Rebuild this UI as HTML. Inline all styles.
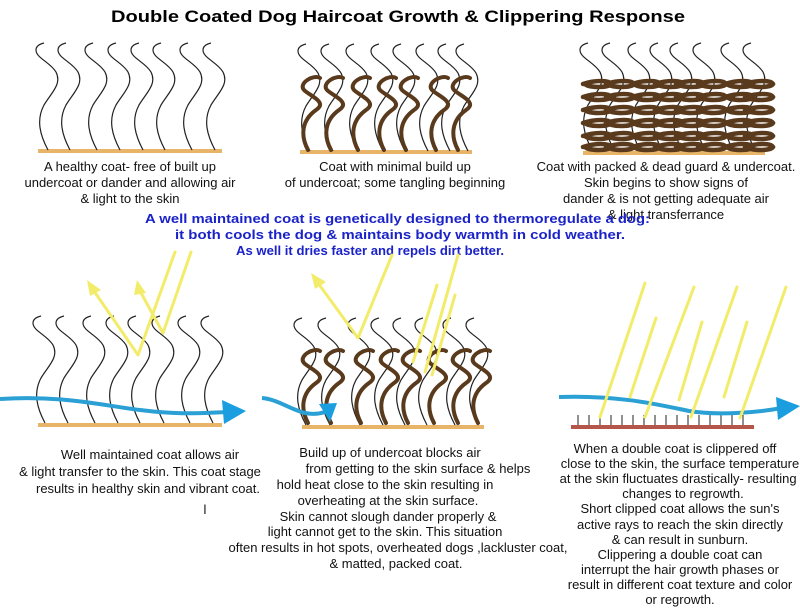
<!DOCTYPE html>
<html><head><meta charset="utf-8"><style>
html,body{margin:0;padding:0;background:#fff;}
svg{display:block;}
.cap{font-family:"Liberation Sans",sans-serif;font-size:13px;fill:#111;text-anchor:middle;}
.blue{font-family:"Liberation Sans",sans-serif;font-size:13px;font-weight:bold;fill:#1a22c8;}
</style></head><body>
<svg width="800" height="613" viewBox="0 0 800 613" xmlns="http://www.w3.org/2000/svg">
<defs>
<path id="h" d="M0,0 C-8,-15 -12,-30 -4,-45 C4,-58 14,-66 8,-78 C2,-88 -12,-92 -12,-100 C-12,-104 -8,-106 -4,-107" fill="none" stroke="#222" stroke-width="1.2"/>
<path id="c" d="M-4,0 C-12,-15 -10,-30 4,-40 C16,-48 -2,-54 -8,-60 C-14,-67 2,-76 8,-72" fill="none" stroke="#5a3a1c" stroke-width="4" stroke-linecap="round"/>
<path id="z" d="M-12,0 C0,-4 14,-4 16,0 C14,4 -6,4 -10,0" fill="none" stroke="#5a3a1c" stroke-width="4.5" stroke-linecap="round"/>
</defs>

<text x="398" y="22" font-family="Liberation Sans,sans-serif" font-size="17" font-weight="bold" text-anchor="middle" textLength="574" lengthAdjust="spacingAndGlyphs">Double Coated Dog Haircoat Growth &amp; Clippering Response</text>

<!-- top panel 1 -->
<rect x="38" y="149" width="184" height="4" fill="#e8b568"/>
<g><use href="#h" x="48" y="150"/><use href="#h" x="70" y="150"/><use href="#h" x="97" y="150"/><use href="#h" x="120" y="150"/><use href="#h" x="143" y="150"/><use href="#h" x="165" y="150"/><use href="#h" x="192" y="150"/><use href="#h" x="215" y="150"/></g>

<!-- top panel 2 -->
<rect x="300" y="150" width="172" height="4" fill="#e8b568"/>
<g><use href="#h" x="310" y="151"/><use href="#h" x="333" y="151"/><use href="#h" x="358" y="151"/><use href="#h" x="383" y="151"/><use href="#h" x="405" y="151"/><use href="#h" x="428" y="151"/><use href="#h" x="450" y="151"/><use href="#h" x="468" y="151"/></g>
<g><use href="#c" x="312" y="150"/><use href="#c" x="335" y="150"/><use href="#c" x="362" y="150"/><use href="#c" x="388" y="150"/><use href="#c" x="410" y="150"/><use href="#c" x="440" y="150"/><use href="#c" x="462" y="150"/></g>

<!-- top panel 3 -->
<rect x="583" y="151" width="182" height="4" fill="#e8b568"/>
<g><use href="#h" x="592" y="150"/><use href="#h" x="614" y="150"/><use href="#h" x="640" y="150"/><use href="#h" x="662" y="150"/><use href="#h" x="682" y="150"/><use href="#h" x="705" y="150"/><use href="#h" x="733" y="150"/><use href="#h" x="755" y="150"/></g>
<g>
<use href="#z" x="595" y="84"/><use href="#z" x="618" y="84"/><use href="#z" x="644" y="84"/><use href="#z" x="667" y="84"/><use href="#z" x="688" y="84"/><use href="#z" x="710" y="84"/><use href="#z" x="737" y="84"/><use href="#z" x="757" y="84"/>
<use href="#z" x="595" y="97"/><use href="#z" x="618" y="97"/><use href="#z" x="644" y="97"/><use href="#z" x="667" y="97"/><use href="#z" x="688" y="97"/><use href="#z" x="710" y="97"/><use href="#z" x="737" y="97"/><use href="#z" x="757" y="97"/>
<use href="#z" x="595" y="110"/><use href="#z" x="618" y="110"/><use href="#z" x="644" y="110"/><use href="#z" x="667" y="110"/><use href="#z" x="688" y="110"/><use href="#z" x="710" y="110"/><use href="#z" x="737" y="110"/><use href="#z" x="757" y="110"/>
<use href="#z" x="595" y="123"/><use href="#z" x="618" y="123"/><use href="#z" x="644" y="123"/><use href="#z" x="667" y="123"/><use href="#z" x="688" y="123"/><use href="#z" x="710" y="123"/><use href="#z" x="737" y="123"/><use href="#z" x="757" y="123"/>
<use href="#z" x="595" y="136"/><use href="#z" x="618" y="136"/><use href="#z" x="644" y="136"/><use href="#z" x="667" y="136"/><use href="#z" x="688" y="136"/><use href="#z" x="710" y="136"/><use href="#z" x="737" y="136"/><use href="#z" x="757" y="136"/>
<use href="#z" x="595" y="147"/><use href="#z" x="618" y="147"/><use href="#z" x="644" y="147"/><use href="#z" x="667" y="147"/><use href="#z" x="688" y="147"/><use href="#z" x="710" y="147"/><use href="#z" x="737" y="147"/><use href="#z" x="757" y="147"/>
</g>

<!-- top captions -->
<text class="cap" x="130" y="171">A healthy coat- free of built up</text>
<text class="cap" x="130" y="187">undercoat or dander and allowing air</text>
<text class="cap" x="130" y="203">&amp; light to the skin</text>
<text class="cap" x="395" y="171">Coat with minimal build up</text>
<text class="cap" x="395" y="187">of undercoat; some tangling beginning</text>
<text class="cap" x="666" y="171">Coat with packed &amp; dead guard &amp; undercoat.</text>
<text class="cap" x="666" y="187">Skin begins to show signs of</text>
<text class="cap" x="666" y="203">dander &amp; is not getting adequate air</text>
<text class="cap" x="666" y="219">&amp; light transferrance</text>

<text class="blue" x="145" y="223" textLength="505" lengthAdjust="spacingAndGlyphs">A well maintained coat is genetically designed to thermoregulate a dog:</text>
<text class="blue" x="175" y="239" textLength="450" lengthAdjust="spacingAndGlyphs">it both cools the dog &amp; maintains body warmth in cold weather.</text>
<text class="blue" x="236" y="255" textLength="268" lengthAdjust="spacingAndGlyphs">As well it dries faster and repels dirt better.</text>

<!-- bottom panel 1 -->
<rect x="38" y="423" width="184" height="4" fill="#e8b568"/>
<g><use href="#h" x="45" y="423"/><use href="#h" x="68" y="423"/><use href="#h" x="95" y="423"/><use href="#h" x="118" y="423"/><use href="#h" x="140" y="423"/><use href="#h" x="164" y="423"/><use href="#h" x="190" y="423"/><use href="#h" x="213" y="423"/></g>
<g stroke="#f2ec6a" stroke-width="3" fill="none" stroke-linecap="round">
<line x1="175" y1="252" x2="138" y2="355"/><line x1="191" y1="252" x2="163" y2="333"/>
<line x1="138" y1="355" x2="94" y2="291"/><line x1="163" y1="333" x2="140" y2="291"/>
</g>
<polygon points="87,280 101,290 90,296" fill="#f2ec6a"/><polygon points="137,280 146,293 134,295" fill="#f2ec6a"/>
<path d="M0,399 C60,395 100,405 140,410 C180,415 200,413 228,412" fill="none" stroke="#2aa0d4" stroke-width="4"/>
<polygon points="222,400 246,411 224,424" fill="#1a9ee0"/>

<!-- bottom panel 2 -->
<rect x="302" y="425" width="182" height="4" fill="#e8b568"/>
<g><use href="#h" x="306" y="425"/><use href="#h" x="330" y="425"/><use href="#h" x="360" y="425"/><use href="#h" x="383" y="425"/><use href="#h" x="405" y="425"/><use href="#h" x="427" y="425"/><use href="#h" x="455" y="425"/><use href="#h" x="478" y="425"/></g>
<g><use href="#c" x="312" y="423"/><use href="#c" x="335" y="423"/><use href="#c" x="365" y="423"/><use href="#c" x="390" y="423"/><use href="#c" x="412" y="423"/><use href="#c" x="438" y="423"/><use href="#c" x="462" y="423"/><use href="#c" x="482" y="423"/></g>
<g stroke="#f2ec6a" stroke-width="3" fill="none" stroke-linecap="round">
<line x1="392" y1="255" x2="358" y2="338"/><line x1="358" y1="338" x2="318" y2="283"/>
<line x1="458" y1="255" x2="425" y2="372"/><line x1="437" y1="285" x2="413" y2="362"/><line x1="455" y1="295" x2="432" y2="375"/>
</g>
<polygon points="311,273 326,282 315,289" fill="#f2ec6a"/>
<path d="M262,398 C285,400 300,420 325,412" fill="none" stroke="#2aa0d4" stroke-width="4"/>
<polygon points="319,404 337,403 330,422" fill="#1a9ee0"/>

<!-- bottom panel 3 -->
<rect x="571" y="425" width="183" height="4" fill="#b5564a"/>
<g stroke="#222" stroke-width="1">
<line x1="578" y1="415" x2="578" y2="425"/><line x1="589" y1="415" x2="589" y2="425"/><line x1="600" y1="415" x2="600" y2="425"/><line x1="611" y1="415" x2="611" y2="425"/><line x1="622" y1="415" x2="622" y2="425"/><line x1="633" y1="415" x2="633" y2="425"/><line x1="644" y1="415" x2="644" y2="425"/><line x1="655" y1="415" x2="655" y2="425"/><line x1="666" y1="415" x2="666" y2="425"/><line x1="677" y1="415" x2="677" y2="425"/><line x1="688" y1="415" x2="688" y2="425"/><line x1="699" y1="415" x2="699" y2="425"/><line x1="710" y1="415" x2="710" y2="425"/><line x1="721" y1="415" x2="721" y2="425"/><line x1="732" y1="415" x2="732" y2="425"/><line x1="743" y1="415" x2="743" y2="425"/>
</g>
<path d="M559,397 C620,395 660,405 689,411 C720,416 760,412 782,408" fill="none" stroke="#2aa0d4" stroke-width="4"/>
<polygon points="776,397 800,406 778,420" fill="#1a9ee0"/>
<g stroke="#f2ec6a" stroke-width="3" fill="none" stroke-linecap="round">
<line x1="645" y1="283" x2="600" y2="417"/><line x1="694" y1="287" x2="645" y2="417"/><line x1="737" y1="287" x2="691" y2="417"/><line x1="786" y1="287" x2="740" y2="418"/>
<line x1="656" y1="318" x2="630" y2="397"/><line x1="702" y1="322" x2="679" y2="400"/><line x1="747" y1="322" x2="724" y2="397"/>
</g>

<!-- bottom captions -->
<text class="cap" x="150" y="459">Well maintained coat allows air</text>
<text class="cap" x="140" y="476">&amp; light transfer to the skin. This coat stage</text>
<text class="cap" x="148" y="493">results in healthy skin and vibrant coat.</text>
<text class="cap" x="205" y="514">l</text>

<text class="cap" x="390" y="457">Build up of undercoat blocks air</text>
<text class="cap" x="418" y="473">from getting to the skin surface &amp; helps</text>
<text class="cap" x="385" y="489">hold heat close to the skin resulting in</text>
<text class="cap" x="388" y="505">overheating at the skin surface.</text>
<text class="cap" x="388" y="521">Skin cannot slough dander properly &amp;</text>
<text class="cap" x="385" y="536">light cannot get to the skin. This situation</text>
<text class="cap" x="398" y="552">often results in hot spots, overheated  dogs ,lackluster coat,</text>
<text class="cap" x="396" y="568">&amp; matted, packed coat.</text>

<text class="cap" x="675" y="453">When a double coat is clippered off</text>
<text class="cap" x="680" y="468">close to the skin, the surface temperature</text>
<text class="cap" x="685" y="483">at the skin fluctuates drastically- resulting in</text>
<text class="cap" x="683" y="498">changes to regrowth.</text>
<text class="cap" x="680" y="513">Short clipped coat allows the sun's</text>
<text class="cap" x="680" y="529">active rays to reach the skin directly</text>
<text class="cap" x="680" y="544">&amp; can result in sunburn.</text>
<text class="cap" x="680" y="559">Clippering a double coat can</text>
<text class="cap" x="680" y="574">interrupt the hair growth phases or</text>
<text class="cap" x="680" y="589">result in different coat texture and color</text>
<text class="cap" x="680" y="604">or regrowth.</text>
</svg>
</body></html>
